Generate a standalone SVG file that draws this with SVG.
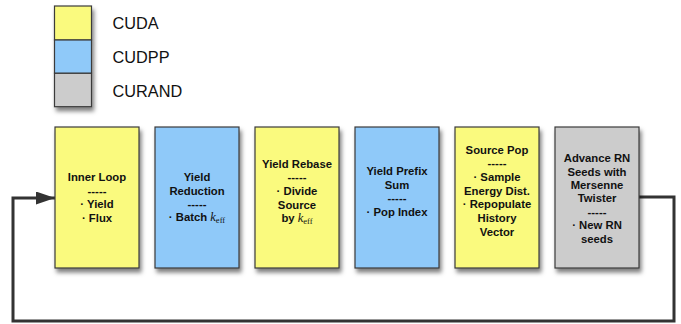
<svg xmlns="http://www.w3.org/2000/svg" width="681" height="324" viewBox="0 0 681 324">
<defs>
<filter id="sh" x="-20%" y="-20%" width="150%" height="150%">
<feDropShadow dx="2" dy="4" stdDeviation="2" flood-color="#000" flood-opacity="0.5"/>
</filter>
<marker id="arr" markerWidth="19" markerHeight="13" refX="19" refY="6.5" orient="auto" markerUnits="userSpaceOnUse">
<path d="M0,0 L19,6.5 L0,13 Z" fill="#333"/>
</marker>
<style>
.box{stroke:#3a3a3a;stroke-width:1.2;filter:url(#sh)}
.y{fill:#fafa7e}
.b{fill:#8fc9f9}
.g{fill:#cccccc}
.t{font-family:"Liberation Sans",Arial,sans-serif;font-weight:bold;font-size:11.3px;fill:#111;text-anchor:middle}
.lg{font-family:"Liberation Sans",Arial,sans-serif;font-size:16.3px;fill:#111}
.k{font-family:"Liberation Serif","Times New Roman",serif;font-style:italic;font-weight:normal;font-size:12.5px}
.e{font-family:"Liberation Serif","Times New Roman",serif;font-style:normal;font-weight:normal;font-size:8.5px}
.conn{fill:none;stroke:#333;stroke-width:3}
</style>
</defs>
<g id="legend">
<g filter="url(#sh)">
<rect x="54.5" y="6" width="37" height="34" class="y" stroke="#3a3a3a" stroke-width="1.2"/>
<rect x="54.5" y="40" width="37" height="33.3" class="b" stroke="#3a3a3a" stroke-width="1.2"/>
<rect x="54.5" y="73.3" width="37" height="33.4" class="g" stroke="#3a3a3a" stroke-width="1.2"/>
</g>
<text class="lg" x="112.5" y="29.3">CUDA</text>
<text class="lg" x="112.5" y="63.3">CUDPP</text>
<text class="lg" x="112.5" y="96.7">CURAND</text>
</g>
<g id="connectors">
<path class="conn" d="M639,197 H674 V321 H13 V198 H55" marker-end="url(#arr)"/>
</g>
<g id="n1">
<rect class="box y" x="55" y="127" width="84" height="141"/>
<text class="t" x="97" y="181">Inner Loop</text>
<text class="t" x="97" y="194.5">-----</text>
<text class="t" x="97" y="208">· Yield</text>
<text class="t" x="97" y="222">· Flux</text>
</g>
<g id="n2">
<rect class="box b" x="155" y="127" width="84" height="141"/>
<text class="t" x="197" y="181">Yield</text>
<text class="t" x="197" y="194.5">Reduction</text>
<text class="t" x="197" y="208">-----</text>
<text class="t" x="197" y="221">· Batch <tspan class="k">k</tspan><tspan class="e" dy="2">eff</tspan></text>
</g>
<g id="n3">
<rect class="box y" x="255" y="127" width="84" height="141"/>
<text class="t" x="297" y="167.5">Yield Rebase</text>
<text class="t" x="297" y="181">-----</text>
<text class="t" x="297" y="195">· Divide</text>
<text class="t" x="297" y="208.5">Source</text>
<text class="t" x="297" y="222">by <tspan class="k">k</tspan><tspan class="e" dy="2">eff</tspan></text>
</g>
<g id="n4">
<rect class="box b" x="355" y="127" width="84" height="141"/>
<text class="t" x="397" y="175">Yield Prefix</text>
<text class="t" x="397" y="188.5">Sum</text>
<text class="t" x="397" y="202">-----</text>
<text class="t" x="397" y="215.5">· Pop Index</text>
</g>
<g id="n5">
<rect class="box y" x="455" y="127" width="84" height="141"/>
<text class="t" x="497" y="153.5">Source Pop</text>
<text class="t" x="497" y="167">-----</text>
<text class="t" x="497" y="181">· Sample</text>
<text class="t" x="497" y="194.5">Energy Dist.</text>
<text class="t" x="497" y="208">· Repopulate</text>
<text class="t" x="497" y="222">History</text>
<text class="t" x="497" y="235.5">Vector</text>
</g>
<g id="n6">
<rect class="box g" x="555" y="127" width="84" height="141"/>
<text class="t" x="597" y="162">Advance RN</text>
<text class="t" x="597" y="175.5">Seeds with</text>
<text class="t" x="597" y="189">Mersenne</text>
<text class="t" x="597" y="202">Twister</text>
<text class="t" x="597" y="215.5">-----</text>
<text class="t" x="597" y="229">· New RN</text>
<text class="t" x="597" y="242.5">seeds</text>
</g>
</svg>
